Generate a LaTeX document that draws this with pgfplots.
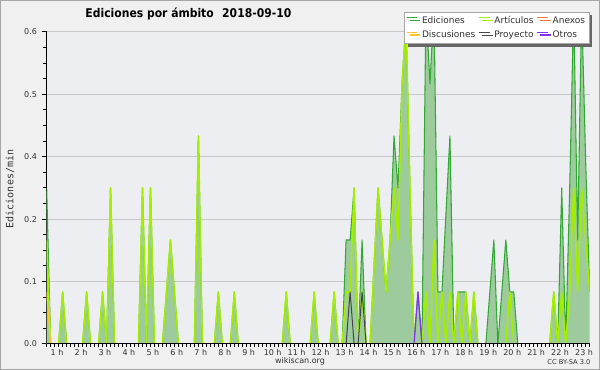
\documentclass[border=0pt]{standalone}
\usepackage{pgfplots}
\pgfplotsset{compat=1.18}
\usepackage{fontspec}
\setmainfont{DejaVu Sans}
\newfontfamily\monofont{DejaVu Sans Mono}
\newfontfamily\titlefont[FakeStretch=0.9]{DejaVu Sans}
\usetikzlibrary{shadows}
\definecolor{edline}{RGB}{52,168,52}
\definecolor{edfill}{RGB}{157,203,157}
\definecolor{art}{RGB}{165,238,0}
\definecolor{anex}{RGB}{255,120,60}
\definecolor{disc}{RGB}{255,200,40}
\definecolor{proy}{RGB}{70,70,70}
\definecolor{otros}{RGB}{130,50,240}
\definecolor{bgout}{RGB}{240,240,240}
\definecolor{bgplot}{RGB}{236,238,241}
\definecolor{gridc}{RGB}{200,200,200}
\definecolor{txt}{RGB}{50,50,50}
\begin{document}
\begin{tikzpicture}
\fill[bgout] (-35pt,-19.5pt) rectangle (415pt,258pt);
\draw[gray!70, line width=0.75pt] (-34.625pt,-19.125pt) rectangle (414.625pt,257.625pt);
\begin{axis}[
  at={(0,0)}, anchor=south west, scale only axis,
  width=407.25pt, height=234pt,
  xmin=0, xmax=136, ymin=0, ymax=0.6,
  axis x line*=bottom, axis y line*=left,
  axis line style={black, line width=0.75pt},
  axis background/.style={fill=bgplot},
  xtick={2.6,8.6,14.6,20.6,26.6,32.6,38.6,44.6,50.6,56.6,62.6,68.6,74.6,80.6,86.6,92.6,98.6,104.6,110.6,116.6,122.6,128.6,134.6},
  xticklabels={1 h,2 h,3 h,4 h,5 h,6 h,7 h,8 h,9 h,10 h,11 h,12 h,13 h,14 h,15 h,16 h,17 h,18 h,19 h,20 h,21 h,22 h,23 h},
  major x tick style={draw=none},
  minor xtick={0,1,...,136},
  ytick={0,0.12,0.24,0.36,0.48,0.6},
  yticklabels={0.0,0.1,0.2,0.4,0.5,0.6},
  minor y tick num=3,
  tick align=outside,
  major tick length=3.75pt, minor tick length=2.5pt,
  tick style={black, line width=0.75pt},
  ymajorgrids, grid style={gridc, line width=0.75pt},
  /pgf/number format/assume math mode=true,
  ticklabel style={font=\fontsize{6pt}{7pt}\selectfont, text=txt},
  xticklabel style={yshift=3pt},
  legend columns=3,
  legend cell align=left,
  legend style={at={(0.9995,1.064)}, anchor=north east, draw=gray!70, fill=white,
    font=\fontsize{6.75pt}{7.6pt}\selectfont, text=txt, inner xsep=1pt, inner ysep=1pt,
    /tikz/every even column/.append style={column sep=0.3pt},
    /tikz/every odd column/.append style={column sep=1.2pt},
    drop shadow={shadow xshift=2.25pt, shadow yshift=-2.25pt, fill=black!60, opacity=1}},
  legend image code/.code={\draw[#1, line width=0.75pt] (0pt,2.4pt) -- (8pt,2.4pt);},
  every axis plot/.append style={mark=none, line join=round},
]
\addplot[draw=none, fill=edfill, forget plot] coordinates {
(0,0.3)(1,0)(3,0)(4,0.1)(5,0)(9,0)(10,0.1)(11,0)(13,0)(14,0.1)(15,0)(16,0.3)(17,0)(23,0)(24,0.3)(25,0)(26,0.3)(27,0)(29,0)(30,0.1)(31,0.2)(32,0.1)(33,0)(37,0)(38,0.4)(39,0)(42,0)(43,0.1)(44,0)(46,0)(47,0.1)(48,0)(59,0)(60,0.1)(61,0)(66,0)(67,0.1)(68,0)(71,0)(72,0.1)(73,0)(74,0)(75,0.2)(76,0.2)(77,0.3)(78,0)(79,0.2)(80,0)(81,0)(82,0.15)(83,0.3)(84,0.2)(85,0.1)(86,0.2)(87,0.4)(88,0.3)(89,0.5)(90,0.62)(91,0.3)(92,0)(93,0.1)(94,0)(95,0.65)(96,0.5)(97,0.65)(98,0.1)(99,0.1)(100,0.25)(101,0.4)(102,0)(103,0.1)(104,0.1)(105,0.1)(106,0)(107,0.1)(108,0)(110,0)(111,0.1)(112,0.2)(113,0)(114,0.1)(115,0.2)(116,0.1)(117,0.1)(118,0)(126,0)(127,0.1)(128,0)(129,0.3)(130,0)(131,0.3)(132,0.65)(133,0.2)(134,0.65)(135,0.35)(136,0.1)
} \closedcycle;
\addplot[edline, line width=0.8pt] coordinates {
(0,0.3)(1,0)(3,0)(4,0.1)(5,0)(9,0)(10,0.1)(11,0)(13,0)(14,0.1)(15,0)(16,0.3)(17,0)(23,0)(24,0.3)(25,0)(26,0.3)(27,0)(29,0)(30,0.1)(31,0.2)(32,0.1)(33,0)(37,0)(38,0.4)(39,0)(42,0)(43,0.1)(44,0)(46,0)(47,0.1)(48,0)(59,0)(60,0.1)(61,0)(66,0)(67,0.1)(68,0)(71,0)(72,0.1)(73,0)(74,0)(75,0.2)(76,0.2)(77,0.3)(78,0)(79,0.2)(80,0)(81,0)(82,0.15)(83,0.3)(84,0.2)(85,0.1)(86,0.2)(87,0.4)(88,0.3)(89,0.5)(90,0.62)(91,0.3)(92,0)(93,0.1)(94,0)(95,0.65)(96,0.5)(97,0.65)(98,0.1)(99,0.1)(100,0.25)(101,0.4)(102,0)(103,0.1)(104,0.1)(105,0.1)(106,0)(107,0.1)(108,0)(110,0)(111,0.1)(112,0.2)(113,0)(114,0.1)(115,0.2)(116,0.1)(117,0.1)(118,0)(126,0)(127,0.1)(128,0)(129,0.3)(130,0)(131,0.3)(132,0.65)(133,0.2)(134,0.65)(135,0.35)(136,0.1)
};
\addlegendentry{Ediciones}
\addplot[art, line width=1.15pt] coordinates {
(0,0.2)(1,0)(3,0)(4,0.1)(5,0)(9,0)(10,0.1)(11,0)(13,0)(14,0.1)(15,0)(16,0.3)(17,0)(23,0)(24,0.3)(25,0)(26,0.3)(27,0)(29,0)(30,0.1)(31,0.2)(32,0.1)(33,0)(37,0)(38,0.4)(39,0)(42,0)(43,0.1)(44,0)(46,0)(47,0.1)(48,0)(59,0)(60,0.1)(61,0)(66,0)(67,0.1)(68,0)(71,0)(72,0.1)(73,0)(74,0)(75,0.1)(76,0.1)(77,0.3)(78,0)(79,0.1)(80,0)(81,0)(82,0.15)(83,0.3)(84,0.2)(85,0.1)(86,0.2)(87,0.3)(88,0.2)(89,0.5)(90,0.62)(91,0.3)(92,0)(94,0)(95,0.1)(96,0)(97,0.2)(98,0)(99,0.1)(100,0)(101,0.1)(102,0)(103,0.1)(104,0)(105,0.1)(106,0)(107,0.1)(108,0)(115,0)(116,0.1)(117,0)(126,0)(127,0.1)(128,0)(129,0.1)(130,0)(131,0.1)(132,0.3)(133,0.1)(134,0.3)(135,0.2)(136,0.1)
};
\addlegendentry{Artículos}
\addlegendimage{anex, line width=0.75pt}
\addlegendentry{Anexos}
\addplot[disc, line width=0.9pt] coordinates {(0,0.1)(1,0)};
\addlegendentry{Discusiones}
\addplot[proy, line width=0.75pt] coordinates {(75,0)(76,0.1)(77,0)(78,0)(79,0.1)(80,0)};
\addlegendentry{Proyecto}
\addplot[otros, line width=0.9pt] coordinates {(92,0)(93,0.1)(94,0)};
\addlegendentry{Otros}
\addplot[black, line width=1pt, forget plot] coordinates {(0,0)(136,0)};
\end{axis}
\node[font=\titlefont\bfseries\fontsize{9pt}{10pt}\selectfont] at (106.3pt,247.5pt) {Ediciones por ámbito\hspace{0.7em}2018-09-10};
\node[rotate=90, font=\monofont\fontsize{7.5pt}{9pt}\selectfont, text=txt] at (-27.5pt,116.25pt) {Ediciones/min};
\node[font=\fontsize{6pt}{7pt}\selectfont, text=txt] at (190pt,-12.75pt) {wikiscan.org};
\node[font=\fontsize{5pt}{6pt}\selectfont, text=txt] at (391.7pt,-13.5pt) {CC BY-SA 3.0};
\pgfresetboundingbox
\useasboundingbox (-35pt,-19.5pt) rectangle (415pt,258pt);
\end{tikzpicture}
\end{document}
